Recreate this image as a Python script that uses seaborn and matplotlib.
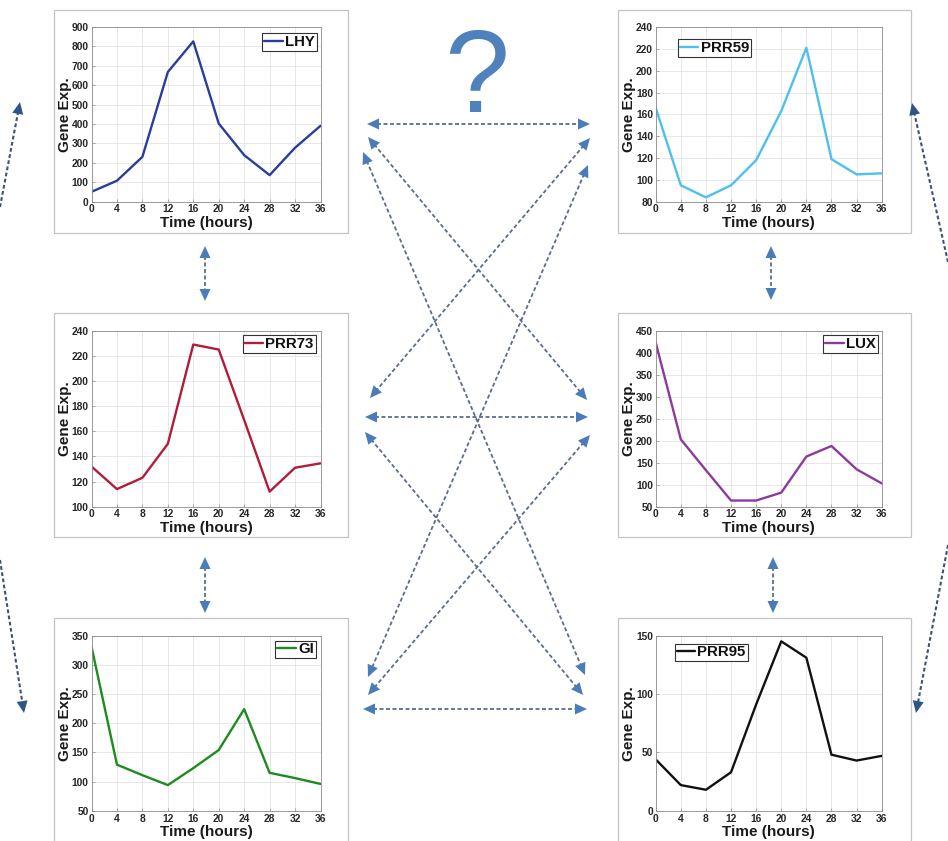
import numpy as np
import pandas as pd
import matplotlib
matplotlib.use("Agg")
import matplotlib.pyplot as plt
from matplotlib.patches import Rectangle, Polygon
from matplotlib.font_manager import FontProperties
import seaborn as sns

# ---- data -------------------------------------------------------------
hours = [0, 4, 8, 12, 16, 20, 24, 28, 32, 36]
genes = ["LHY", "PRR59", "PRR73", "LUX", "GI", "PRR95"]

lhy = [51, 108, 231, 668, 826, 403, 240, 137, 278, 391]
prr59 = [166, 95, 84, 95, 118, 163, 221, 119, 105, 106]
prr73 = [132, 114, 123, 150, 229, 225, 169, 112, 131, 134.5]
lux = [423, 203, 133, 64, 64, 82, 164, 188, 135, 103]
gi = [331, 129, 111, 94, 123, 154, 224, 115, 106, 96]
prr95 = [44, 22, 18, 33, 91, 145, 131, 48, 43, 47]

series = {"LHY": lhy, "PRR59": prr59, "PRR73": prr73,
          "LUX": lux, "GI": gi, "PRR95": prr95}

# y-axis range and tick step for every gene
y_ticks = {"LHY": (0, 900, 100), "PRR59": (80, 240, 20), "PRR73": (100, 240, 20),
           "LUX": (50, 450, 50), "GI": (50, 350, 50), "PRR95": (0, 150, 50)}

colors = {"LHY": "#2A3C9C", "PRR59": "#4DC0EE", "PRR73": "#B01C3C",
          "LUX": "#8C3A9E", "GI": "#1F8A1F", "PRR95": "#111111"}

# ---- style ------------------------------------------------------------
sns.set_theme(style="whitegrid")
plt.rcParams["font.family"] = ["Liberation Sans", "DejaVu Sans"]
plt.rcParams["font.weight"] = "bold"

W, H = 948, 841
fig = plt.figure(figsize=(W / 100, H / 100), dpi=100)
fig.patch.set_facecolor("white")

# full-figure canvas in pixel units for frames and connectors
canvas = fig.add_axes([0, 0, 1, 1], zorder=0)
canvas.set_xlim(0, W)
canvas.set_ylim(H, 0)
canvas.axis("off")


def frac_rect(x0, y0, x1, y1):
    return [x0 / W, 1 - y1 / H, (x1 - x0) / W, (y1 - y0) / H]


# panel grid: (frame x0, frame x1, axes x0, axes x1) and same for rows
cols = [(54, 348, 91.5, 320.5), (618, 911, 655.7, 881.7)]
rows = [(10, 233, 27.0, 201.7), (313, 537, 330.7, 506.7), (618, 870, 635.5, 810.8)]
grid_pos = {"LHY": (0, 0), "PRR59": (0, 1), "PRR73": (1, 0),
            "LUX": (1, 1), "GI": (2, 0), "PRR95": (2, 1)}

# legend placement: (loc, x offset px, y offset px from the matching corner)
legend_place = {"LHY": ("upper right", 4, 6), "PRR59": ("upper left", 22, 12),
                "PRR73": ("upper right", 5, 4.5), "LUX": ("upper right", 4, 4.5),
                "GI": ("upper right", 5, 5), "PRR95": ("upper left", 19, 8)}

legend_font = FontProperties(family=["Liberation Sans", "DejaVu Sans"],
                             weight="bold", size=10.8)

for g in genes:
    r, c = grid_pos[g]
    fx0, fx1, ax0, ax1 = cols[c]
    fy0, fy1, ay0, ay1 = rows[r]
    canvas.add_patch(Rectangle((fx0, fy0), fx1 - fx0, fy1 - fy0, facecolor="white",
                               edgecolor="#C4C4C4", lw=0.9, zorder=1))

    ax = fig.add_axes(frac_rect(ax0, ay0, ax1, ay1), zorder=2)
    ax.set_facecolor("white")
    df = pd.DataFrame({"Time": hours, "Expr": series[g]})
    sns.lineplot(data=df, x="Time", y="Expr", ax=ax, color=colors[g],
                 lw=1.7, label=g, legend=False)

    lo, hi, step = y_ticks[g]
    ax.set_xlim(0, 36)
    ax.set_ylim(lo, hi)
    ax.set_xticks(hours)
    ax.set_yticks(np.arange(lo, hi + step / 2, step))
    ax.grid(True, color="#E4E4E4", lw=0.6)
    for s in ax.spines.values():
        s.set_color("#8A8A8A")
        s.set_linewidth(0.6)
    ax.tick_params(direction="in", length=2.5, width=0.5, color="#8A8A8A",
                   labelsize=7.4, labelcolor="#262626", pad=2.0,
                   left=True, bottom=True)
    for lab in ax.get_xticklabels() + ax.get_yticklabels():
        lab.set_fontweight("bold")

    ax.set_xlabel("Time (hours)", fontsize=11, fontweight="bold", color="#1A1A1A")
    ax.set_ylabel("Gene Exp.", fontsize=11, fontweight="bold", color="#1A1A1A")
    aw, ah = ax1 - ax0, ay1 - ay0
    ax.xaxis.set_label_coords(0.5, -14 / ah)
    ax.yaxis.set_label_coords(-20 / aw, 0.5)

    loc, ox, oy = legend_place[g]
    if loc == "upper right":
        anchor = (1 - ox / aw, 1 - oy / ah)
    else:
        anchor = (ox / aw, 1 - oy / ah)
    leg = ax.legend(loc=loc, bbox_to_anchor=anchor, borderaxespad=0,
                    prop=legend_font, handlelength=1.25,
                    handletextpad=0.15, borderpad=0.12, fancybox=False,
                    framealpha=1, edgecolor="#333333")
    leg.get_frame().set_linewidth(0.8)
    for t in leg.get_texts():
        t.set_fontweight("bold")
        t.set_color("#111111")


# ---- connectors -------------------------------------------------------
def dashed_arrow(p0, p1, line_color, head_color, both=True,
                 head_len=12, head_w=11, lw=1.3, dash=(2.2, 1.4)):
    p0 = np.array(p0, float)
    p1 = np.array(p1, float)
    u = (p1 - p0) / np.linalg.norm(p1 - p0)
    n = np.array([-u[1], u[0]])
    start = p0 + u * head_len * 0.8 if both else p0
    end = p1 - u * head_len * 0.8
    canvas.plot([start[0], end[0]], [start[1], end[1]], color=line_color, lw=lw,
                linestyle=(0, dash), dash_capstyle="butt", zorder=3)
    tips = [(p1, u)] + ([(p0, -u)] if both else [])
    for tip, d in tips:
        base = tip - d * head_len
        tri = [tip, base + n * head_w / 2, base - n * head_w / 2]
        canvas.add_patch(Polygon(tri, closed=True, facecolor=head_color,
                                 edgecolor="none", zorder=4))


link_line, link_head = "#5A6D8C", "#4A7CBA"
links = [
    ((367, 124), (590, 124)),
    ((368, 137), (587, 400)),
    ((363, 152), (585, 675)),
    ((590, 138), (370, 398)),
    ((588, 165), (368, 677)),
    ((365, 417), (588, 417)),
    ((365, 432), (583, 695)),
    ((590, 435), (368, 695)),
    ((363, 709), (587, 709)),
    ((205, 246), (205, 301)),
    ((205, 557), (205, 613)),
    ((771, 246), (771, 300)),
    ((773, 557), (773, 613)),
]
for a, b in links:
    dashed_arrow(a, b, link_line, link_head)

edge_line, edge_head = "#3C5276", "#2F5486"
edge_links = [
    ((0, 207), (20, 102)),
    ((0, 560), (24, 713)),
    ((948, 262), (912, 103)),
    ((948, 545), (916, 713)),
]
for a, b in edge_links:
    dashed_arrow(a, b, edge_line, edge_head, both=False, dash=(1.8, 1.2), lw=1.5)

canvas.text(477, 112, "?", ha="center", va="baseline", fontsize=84,
            fontweight="normal", color="#4F81BD", family=["Liberation Sans", "DejaVu Sans"],
            zorder=5)

fig.savefig("out.png", dpi=100, facecolor="white")
